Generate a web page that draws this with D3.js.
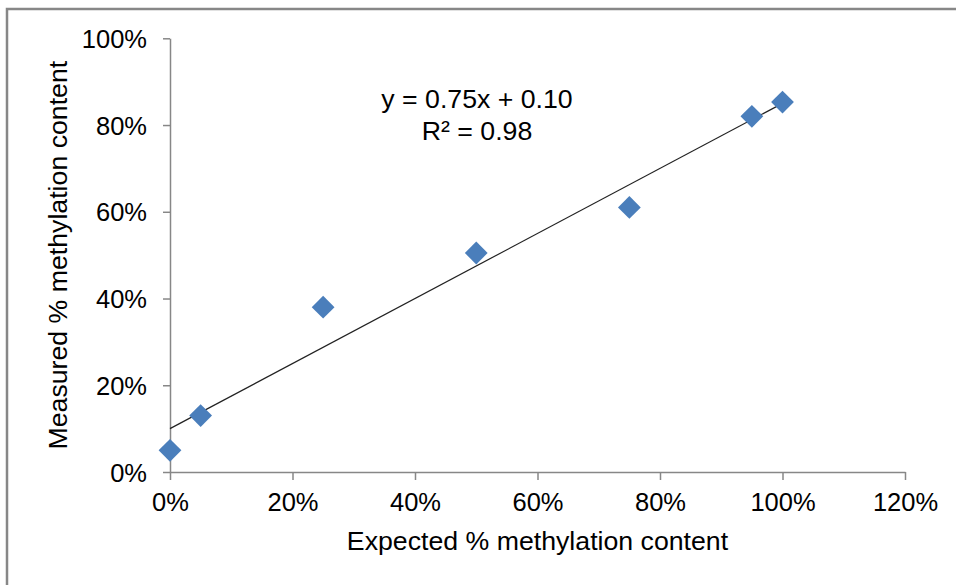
<!DOCTYPE html>
<html>
<head>
<meta charset="utf-8">
<script src="https://cdn.jsdelivr.net/npm/d3@7"></script>
<style>
  html, body { margin: 0; padding: 0; background: #fff; }
  svg { display: block; }
  text { font-family: "Liberation Sans", Arial, sans-serif; fill: #000; }
</style>
</head>
<body>
<svg id="chart" width="956" height="585"></svg>
<script>
// Expected vs. measured methylation fractions
const expected = [0, 0.05, 0.25, 0.50, 0.75, 0.95, 1.00];
const measured = [0.05, 0.13, 0.38, 0.505, 0.61, 0.82, 0.853];

// Linear trendline as reported
const trendSlope = 0.75;
const trendIntercept = 0.10;
const rSquared = 0.98;

const xTicks = [0, 0.2, 0.4, 0.6, 0.8, 1.0, 1.2];
const yTicks = [0, 0.2, 0.4, 0.6, 0.8, 1.0];

const xTitle = "Expected % methylation content";
const yTitle = "Measured % methylation content";

const svg = d3.select("#chart");
const W = 956, H = 585;
const plot = { left: 170, right: 905, top: 38.3, bottom: 472 };

// Chart area frame
svg.append("rect")
  .attr("x", 7).attr("y", 9)
  .attr("width", W + 20).attr("height", H + 20)
  .attr("fill", "#fff")
  .attr("stroke", "#878787")
  .attr("stroke-width", 2.5);

const x = d3.scaleLinear().domain([0, 1.2]).range([plot.left, plot.right]);
const y = d3.scaleLinear().domain([0, 1.0]).range([plot.bottom, plot.top]);

const pct = d3.format(".0%");
const axisColor = "#878787";

// X axis
const gx = svg.append("g")
  .attr("transform", `translate(0,${plot.bottom})`)
  .call(d3.axisBottom(x).tickValues(xTicks).tickFormat(pct).tickSize(8).tickSizeOuter(0).tickPadding(13));
// Y axis
const gy = svg.append("g")
  .attr("transform", `translate(${plot.left},0)`)
  .call(d3.axisLeft(y).tickValues(yTicks).tickFormat(pct).tickSize(7).tickSizeOuter(0).tickPadding(16));

[gx, gy].forEach(g => {
  g.select(".domain").attr("stroke", axisColor).attr("stroke-width", 1.5);
  g.selectAll(".tick line").attr("stroke", axisColor).attr("stroke-width", 1.5);
  g.selectAll(".tick text")
    .attr("fill", "#000")
    .style("font-family", '"Liberation Sans", Arial, sans-serif')
    .style("font-size", "25.5px");
});
gy.selectAll(".tick text").attr("dy", "0.36em");
gx.selectAll(".tick text").attr("dy", "0.72em");

// Axis titles
svg.append("text")
  .attr("x", (plot.left + plot.right) / 2)
  .attr("y", 550)
  .attr("text-anchor", "middle")
  .style("font-size", "26.7px")
  .text(xTitle);

svg.append("text")
  .attr("transform", `translate(67,${(plot.top + plot.bottom) / 2}) rotate(-90)`)
  .attr("text-anchor", "middle")
  .style("font-size", "26.7px")
  .text(yTitle);

// Trendline across the data's x range
const xExt = d3.extent(expected);
svg.append("line")
  .attr("x1", x(xExt[0])).attr("y1", y(trendSlope * xExt[0] + trendIntercept))
  .attr("x2", x(xExt[1])).attr("y2", y(trendSlope * xExt[1] + trendIntercept))
  .attr("stroke", "#222")
  .attr("stroke-width", 1.2);

// Diamond markers
const diamond = d3.symbol().type(d3.symbolSquare).size(260);
svg.append("g")
  .selectAll("path")
  .data(expected.map((e, i) => [e, measured[i]]))
  .join("path")
  .attr("d", diamond)
  .attr("transform", d => `translate(${x(d[0])},${y(d[1])}) rotate(45)`)
  .attr("fill", "#4A7EBB");

// Trendline equation
const f2 = d3.format(".2f");
const eq = svg.append("text")
  .attr("x", 477)
  .attr("y", 108)
  .attr("text-anchor", "middle")
  .style("font-size", "26.7px");
eq.append("tspan").attr("x", 477).text(`y = ${f2(trendSlope)}x + ${f2(trendIntercept)}`);
eq.append("tspan").attr("x", 477).attr("dy", 32).text(`R² = ${f2(rSquared)}`);
</script>
</body>
</html>
